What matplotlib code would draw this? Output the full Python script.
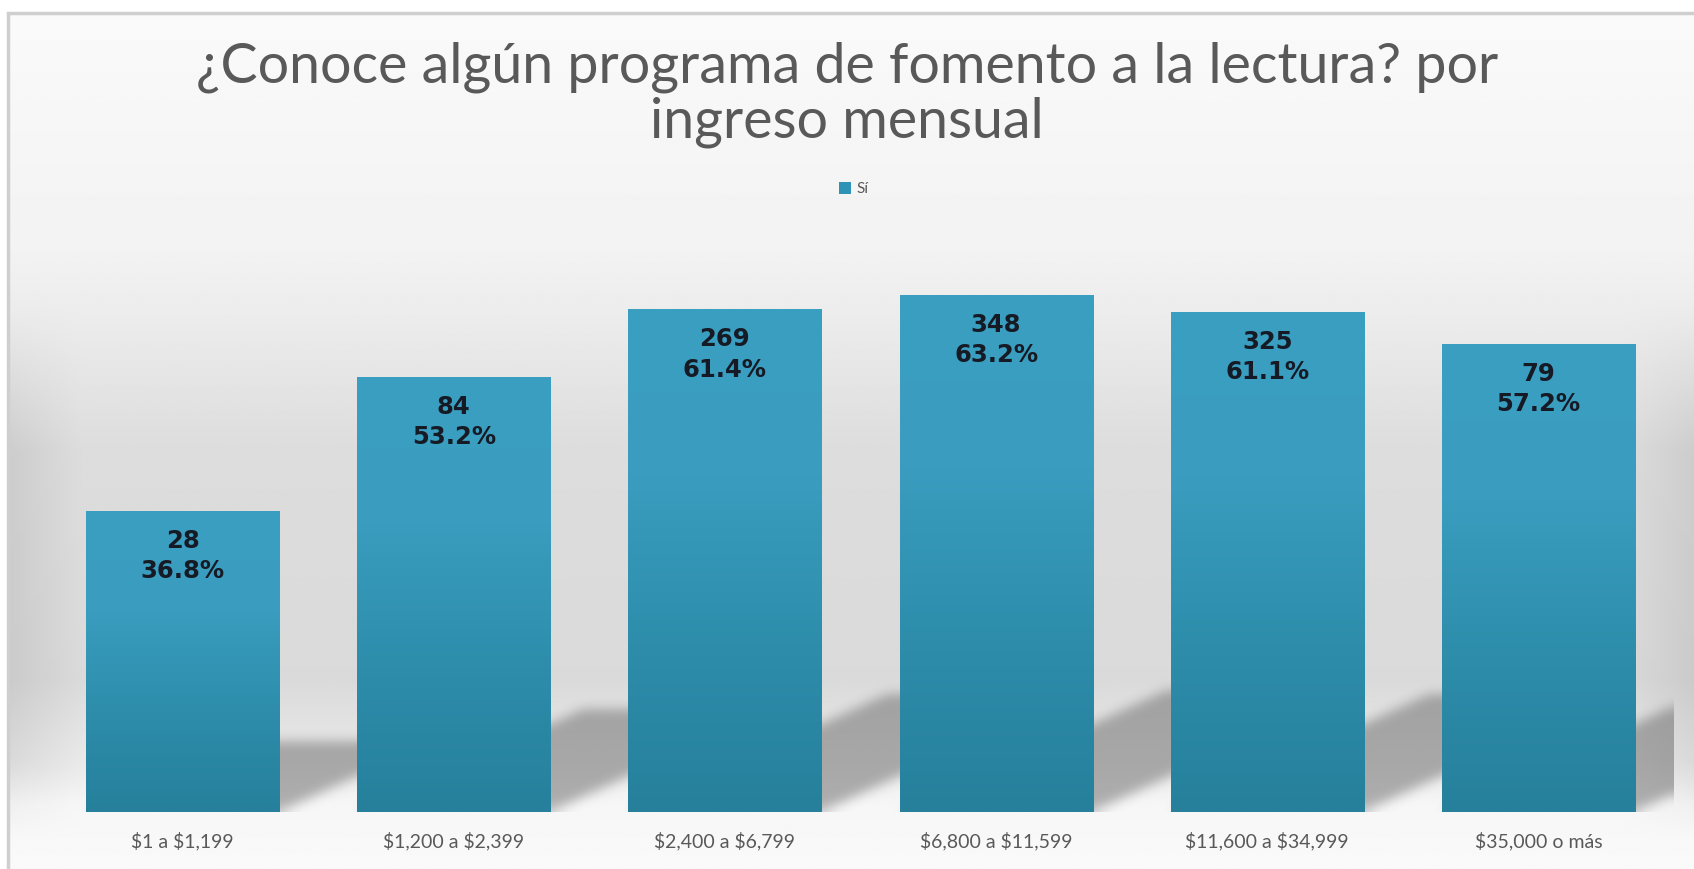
import numpy as np
import matplotlib
matplotlib.use("Agg")
import matplotlib.pyplot as plt
from matplotlib.patches import Patch, Rectangle
from matplotlib.path import Path
from matplotlib.colors import LinearSegmentedColormap

plt.rcParams["text.parse_math"] = False

# Data
categories = ["$1 a $1,199", "$1,200 a $2,399", "$2,400 a $6,799",
              "$6,800 a $11,599", "$11,600 a $34,999", "$35,000 o más"]
counts = [28, 84, 269, 348, 325, 79]
percents = [36.8, 53.2, 61.4, 63.2, 61.1, 57.2]

W, H = 1694, 869
fig = plt.figure(figsize=(W / 100, H / 100), dpi=100)
fig.patch.set_facecolor("white")

# background gradient inside the chart frame
bg = fig.add_axes([8 / W, 0, 1 - 8 / W, 1 - 13 / H], zorder=-10)
bg.set_axis_off()
ys = np.linspace(13, H, 400)
stops_y = [13, 250, 330, 450, 680, 770, 805, 869]
stops_v = [0.98, 0.95, 0.92, 0.865, 0.855, 0.92, 0.965, 0.98]
vert = np.interp(ys, stops_y, stops_v)
xs = np.linspace(8, W, 400)
edge = np.clip(1 - np.minimum(xs - 8, W - xs) / 70, 0, 1)
band = np.interp(ys, [13, 300, 450, 760, 840, 869], [0, 0, 1, 1, 0, 0])
grid = vert[:, None] - 0.06 * band[:, None] * edge[None, :]
bg.imshow(grid, cmap="gray", vmin=0, vmax=1, aspect="auto",
          extent=[0, 1, 0, 1], interpolation="bilinear")
bg.set_xlim(0, 1)
bg.set_ylim(0, 1)

# chart frame
fig.patches.append(Rectangle((8 / W, -0.2), 1.2, 1.2 - 13 / H,
                             transform=fig.transFigure, fill=False,
                             edgecolor="#cfcfcf", linewidth=2.5, zorder=-5))

# plot area
left, right = 47 / W, 1674 / W
bottom, top = (H - 812) / H, (H - 239) / H
ax = fig.add_axes([left, bottom, right - left, top - bottom])
ax.set_facecolor("none")
x = np.arange(len(categories))
width = 0.712
ax.set_xlim(-0.5, len(categories) - 0.5)
ax.set_ylim(0, 70)

# soft shadows behind the bars
ax_w_px = (right - left) * W
ax_h_px = (top - bottom) * H
ppx = ax_w_px / len(categories)
ppy = ax_h_px / 70
nx, ny = int(ax_w_px), int(ax_h_px)
gx = np.linspace(-0.5, len(categories) - 0.5, nx)
gy = np.linspace(70, 0, ny)
GX, GY = np.meshgrid(gx, gy)
pts = np.column_stack([GX.ravel(), GY.ravel()])
mask = np.zeros(GX.size)
for xi, p in zip(x, percents):
    rise = 0.235 * p
    dx = 2.2 * rise * ppy / ppx
    xl, xr = xi - width / 2, xi + width / 2
    poly = Path([(xl, 0), (xr, 0), (xr + dx, rise), (xl + dx, rise), (xl, 0)])
    mask = np.maximum(mask, poly.contains_points(pts))
mask = mask.reshape(GX.shape)


def box_blur(a, r, axis):
    pad = [(0, 0), (0, 0)]
    pad[axis] = (r + 1, r)
    c = np.cumsum(np.pad(a, pad, mode="edge"), axis=axis)
    if axis == 0:
        return (c[2 * r + 1:, :] - c[:-2 * r - 1, :]) / (2 * r + 1)
    return (c[:, 2 * r + 1:] - c[:, :-2 * r - 1]) / (2 * r + 1)


for _ in range(3):
    mask = box_blur(mask, 5, 0)
    mask = box_blur(mask, 5, 1)
shadow = np.zeros((ny, nx, 4))
shadow[..., :3] = 0.4
shadow[..., 3] = mask * 0.5
ax.imshow(shadow, extent=[-0.5, len(categories) - 0.5, 0, 70],
          aspect="auto", zorder=1, interpolation="bilinear")

# gradient bars
bar_cmap = LinearSegmentedColormap.from_list(
    "bar", ["#26809c", "#2d8dab", "#3a9dbf", "#3b9fc2"])
bars = ax.bar(x, percents, width=width, color="none", edgecolor="none", zorder=2)
for b in bars:
    grad = np.linspace(0, 1, 256).reshape(-1, 1)
    im = ax.imshow(grad, cmap=bar_cmap, origin="lower", aspect="auto",
                   extent=[b.get_x(), b.get_x() + b.get_width(), 0, b.get_height()],
                   zorder=2)
    im.set_clip_path(b)

for xi, n, p in zip(x, counts, percents):
    ax.annotate(f"{n}\n{p:.1f}%", xy=(xi, p), xytext=(0, -13),
                textcoords="offset points", ha="center", va="top",
                fontsize=17.5, fontweight="bold", family="DejaVu Sans",
                color="#161a24", linespacing=1.32, zorder=3)

ax.set_xticks(x)
ax.set_xticklabels(categories, family="Lato", fontsize=14, color="#595959")
ax.tick_params(axis="x", length=0, pad=14)
ax.set_yticks([])
for s in ax.spines.values():
    s.set_visible(False)
ax.set_xlim(-0.5, len(categories) - 0.5)
ax.set_ylim(0, 70)

fig.text(0.5, 1 - 95 / H, "¿Conoce algún programa de fomento a la lectura? por\ningreso mensual",
         ha="center", va="center", family="Lato", fontsize=40, color="#595959",
         linespacing=1.08)

fig.legend(handles=[Patch(facecolor="#2f93b5", label="Sí")], loc="center",
           bbox_to_anchor=(0.504, 1 - 189 / H), frameon=False,
           handlelength=0.8, handleheight=0.8, handletextpad=0.35,
           labelcolor="#595959", prop={"family": "Lato", "size": 11})

fig.savefig("out.png", dpi=100)
